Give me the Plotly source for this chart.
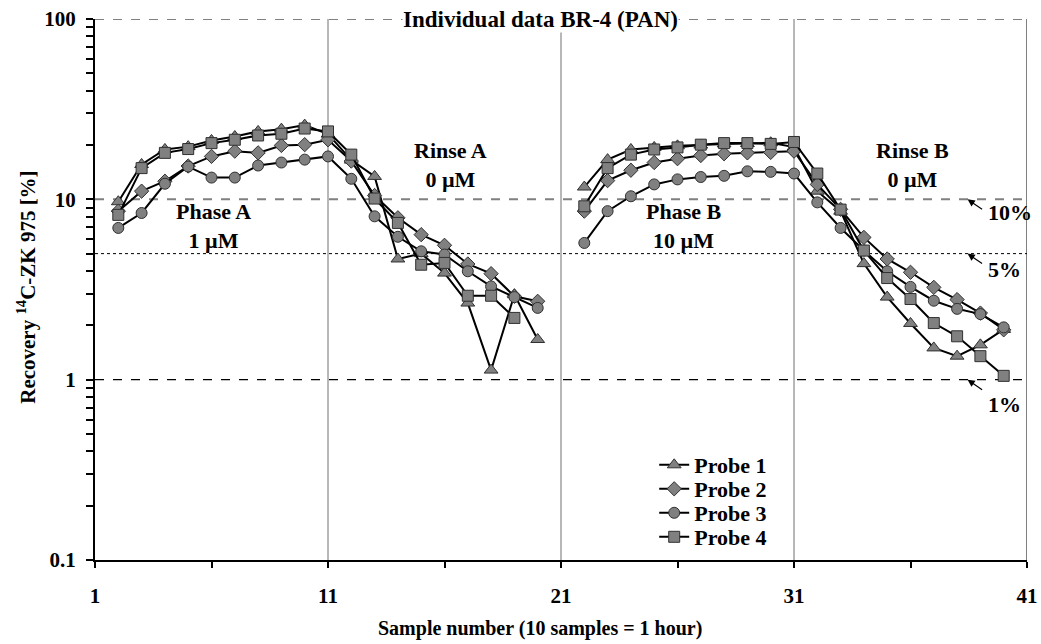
import math
import plotly.graph_objects as go

# ---- data ----
samples = list(range(2, 41))  # 2..40 (21 is the gap between phases)

probe1 = [9.7, 15.6, 18.9, 19.6, 21.2, 22.3, 23.8, 24.5, 25.8, 23.0,
          16.5, 13.4, 4.67, 5.0, 3.9, 2.66, 1.13, 2.96, 1.67,
          None,
          11.7, 16.6, 18.9, 19.4, 19.8, 20.0, 20.3, 20.4, 20.6, 19.5,
          11.1, 8.6, 4.4, 2.87, 2.05, 1.5, 1.35, 1.56, 1.9]
probe2 = [8.6, 11.1, 12.6, 15.3, 17.3, 18.5, 18.1, 19.9, 20.1, 21.4,
          16.3, 10.5, 7.9, 6.37, 5.56, 4.38, 3.87, 2.9, 2.72,
          None,
          8.6, 12.7, 14.5, 16.0, 16.8, 17.5, 17.9, 18.1, 18.2, 18.5,
          12.1, 8.8, 6.15, 4.67, 3.94, 3.25, 2.78, 2.34, 1.89]
probe3 = [6.94, 8.4, 12.2, 15.2, 13.2, 13.2, 15.4, 16.0, 16.6, 17.3,
          13.0, 8.05, 6.2, 5.15, 4.94, 3.99, 3.29, 2.87, 2.5,
          None,
          5.73, 8.6, 10.4, 12.1, 12.9, 13.3, 13.5, 14.3, 14.2, 13.9,
          9.62, 6.94, 5.2, 3.99, 3.27, 2.74, 2.47, 2.31, 1.95]
probe4 = [8.2, 14.9, 18.1, 19.0, 20.5, 21.4, 22.6, 23.1, 24.7, 23.8,
          17.7, 10.1, 7.4, 4.34, 4.44, 2.92, 2.92, 2.2, None,
          None,
          9.15, 14.9, 17.7, 18.9, 19.4, 20.1, 20.5, 20.5, 20.3, 20.8,
          13.9, 8.77, 5.2, 3.66, 2.80, 2.06, 1.74, 1.35, 1.05]

series_names = ["Probe 1", "Probe 2", "Probe 3", "Probe 4"]
series_symbols = ["triangle-up", "diamond", "circle", "square"]
series_sizes = [12, 11, 11, 11]

x_tickvals = [1, 6, 11, 16, 21, 26, 31, 36, 41]
x_ticktext = ["1", "", "11", "", "21", "", "31", "", "41"]
y_mant = [m for e in (-1, 0, 1) for m in range(1, 10)] + [1]
y_tickvals = [m * 10 ** e for e in (-1, 0, 1) for m in range(1, 10)] + [100]
y_ticktext = [("0.1" if v == 0.1 else str(int(v))) if m == 1 else ""
              for v, m in zip(y_tickvals, y_mant)]

FONT = "Liberation Serif"

fig = go.Figure()
legend_ids = ["legend", "legend2", "legend3", "legend4"]
for name, ys, sym, sz, lid in zip(series_names, [probe1, probe2, probe3, probe4],
                                  series_symbols, series_sizes, legend_ids):
    fig.add_trace(go.Scatter(
        x=samples, y=ys, name="<b>%s</b>" % name, mode="lines+markers",
        line=dict(color="black", width=2),
        marker=dict(symbol=sym, size=sz, color="#808080",
                    line=dict(color="#303030", width=1)),
        connectgaps=False, legend=lid,
    ))

# reference lines
for yv, col, dash, w in [(100, "#808080", "dash", 2), (10, "#808080", "dash", 2),
                         (5, "black", "dot", 1), (1, "black", "dash", 1.2)]:
    fig.add_shape(type="line", xref="paper", x0=0, x1=1, yref="y", y0=yv, y1=yv,
                  line=dict(color=col, dash=dash, width=w), layer="below")
for xv in [11, 21, 31]:
    fig.add_shape(type="line", xref="x", x0=xv, x1=xv, yref="paper", y0=0, y1=1,
                  line=dict(color="#707070", width=1), layer="below")
fig.add_shape(type="line", xref="x", x0=41, x1=41, yref="paper", y0=0, y1=1,
              line=dict(color="black", width=1))

afont = dict(family=FONT, size=22, color="black")
ann = [
    dict(x=6.1, y=0.85, text="<b>Phase A<br>1 µM</b>"),
    dict(x=16.24, y=1.19, text="<b>Rinse A<br>0 µM</b>"),
    dict(x=26.3, y=0.85, text="<b>Phase B<br>10 µM</b>"),
    dict(x=36.1, y=1.19, text="<b>Rinse B<br>0 µM</b>"),
]
for a in ann:
    fig.add_annotation(x=a["x"], y=a["y"], xref="x", yref="y", text=a["text"],
                       showarrow=False, font=afont, xanchor="center", yanchor="middle")

# percentage markers with arrows
for yv, lab, ys, xt in [(10, "10%", -13, 40.25), (5, "5%", -16, 40.05), (1, "1%", -25, 40.05)]:
    fig.add_annotation(x=38.45, y=math.log10(yv), xref="x", yref="y",
                       text="", showarrow=True, arrowhead=2, arrowsize=1.2, arrowwidth=1.2,
                       arrowcolor="black", ax=16, ay=11)
    fig.add_annotation(x=xt, y=math.log10(yv), xref="x", yref="y",
                       text="<b>%s</b>" % lab, showarrow=False, font=afont,
                       xanchor="center", yanchor="middle", yshift=ys)

# title
fig.add_annotation(x=20.1, y=2, xref="x", yref="y", text="<b>Individual data BR-4 (PAN)</b>",
                   showarrow=False, font=dict(family=FONT, size=23, color="black"),
                   bgcolor="white", xanchor="center", yanchor="middle", borderpad=0)
# axis titles
fig.add_annotation(x=20.1, y=-0.1257, xref="x", yref="paper",
                   text="<b>Sample number (10 samples = 1 hour)</b>", showarrow=False,
                   font=dict(family=FONT, size=20, color="black"), xanchor="center", yanchor="middle")
fig.add_annotation(x=-0.073, y=0.505, xref="paper", yref="paper", textangle=-90,
                   text="<b>Recovery <sup>14</sup>C-ZK 975 [%]</b>", showarrow=False,
                   font=dict(family=FONT, size=21, color="black"), xanchor="center", yanchor="middle")

# one legend per entry so the rows can be spaced like the reference
leg_common = dict(x=0.600, xanchor="left", yanchor="middle", bgcolor="rgba(0,0,0,0)",
                  font=dict(family=FONT, size=22, color="black"), borderwidth=0)
leg_rows_px = [465, 489, 513, 537]
plot_top, plot_h = 19, 541
legends = {}
for lid, py in zip(legend_ids, leg_rows_px):
    legends[lid] = dict(leg_common, y=1 - (py - plot_top) / plot_h)

fig.update_layout(
    width=1041, height=644,
    margin=dict(l=95, r=14, t=19, b=84),
    paper_bgcolor="white", plot_bgcolor="white",
    font=dict(family=FONT, size=20, color="black"),
    showlegend=True,
    **legends,
)
fig.update_xaxes(range=[1, 41], showgrid=False, zeroline=False, showline=True,
                 linecolor="black", linewidth=2, ticks="outside", ticklen=6, tickwidth=2,
                 tickcolor="black", tickvals=x_tickvals,
                 ticktext=["<b>%s</b>" % t if t else "" for t in x_ticktext],
                 tickfont=dict(family=FONT, size=21), ticklabelstandoff=10,
                 automargin=False, ticklabeloverflow="allow")
fig.update_yaxes(type="log", range=[-1, 2], showgrid=False, zeroline=False, showline=True,
                 linecolor="black", linewidth=2, ticks="outside", ticklen=7, tickwidth=2,
                 tickcolor="black", tickvals=y_tickvals,
                 ticktext=["<b>%s</b>" % t if t else "" for t in y_ticktext],
                 tickfont=dict(family=FONT, size=21), ticklabelstandoff=6,
                 automargin=False, ticklabeloverflow="allow")

# remove the default 8px page margin so the figure fills the window exactly
fig.write_html("out.html", config={"displayModeBar": False},
               post_script="document.body.style.margin='0';")
